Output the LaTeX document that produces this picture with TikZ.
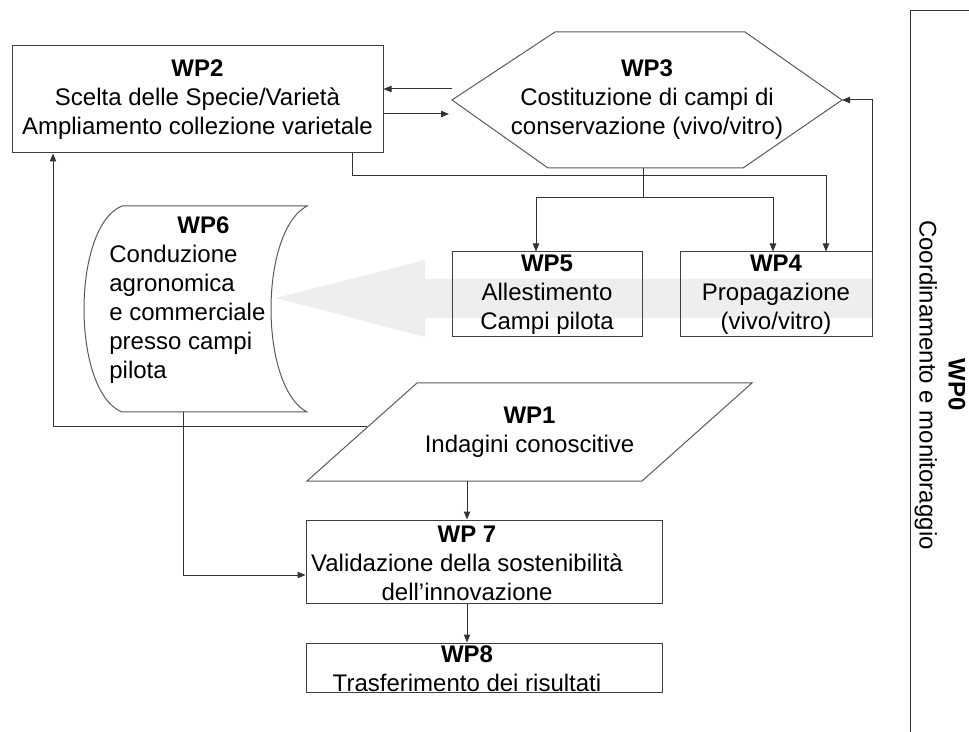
\documentclass[tikz,border=0pt]{standalone}
\usepackage{fontspec}
\setmainfont{Liberation Sans}
\usetikzlibrary{arrows.meta}

\begin{document}
\begin{tikzpicture}[x=0.5pt, y=-0.5pt,
  every node/.style={font=\fontsize{12}{14.5}\selectfont, inner sep=0pt},
  wpbox/.style={draw=black!75, line width=0.5pt, align=center},
  wpline/.style={draw=black!80, line width=0.5pt},
  arr/.style={wpline, -{Triangle[length=4pt, width=3.2pt]}}]
  \useasboundingbox (0,0) rectangle (969,732);

  % Big grey arrow (behind WP5/WP4)
  \fill[gray!13] (872,279) -- (425,279) -- (425,260) -- (276,298)
     -- (425,337) -- (425,318) -- (872,318) -- cycle;

  % WP0 frame on the right
  \draw[wpline] (910,732) -- (910,11) -- (969,11);
  \node[rotate=-90, align=center] (wp0) at (940,385)
     {\textbf{WP0}\\Coordinamento e monitoraggio};

  % Rectangles
  \node[wpbox, minimum width=185.5pt, minimum height=53.5pt] (wp2) at (197.5,99.5)
     {\textbf{WP2}\\Scelta delle Specie/Varietà\\Ampliamento collezione varietale};
  \node[wpbox, minimum width=95pt, minimum height=42.5pt] (wp5) at (547,294.5)
     {\textbf{WP5}\\Allestimento\\Campi pilota};
  \node[wpbox, minimum width=96pt, minimum height=42.5pt] (wp4) at (776,294.5)
     {\textbf{WP4}\\Propagazione\\(vivo/vitro)};
  \node[wpbox, minimum width=178pt, minimum height=41.5pt] (wp7) at (484,561.5) {};
  \node[align=center] (wp7t) at (467,563)
     {\textbf{WP 7}\\Validazione della sostenibilità\\dell’innovazione};
  \node[wpbox, minimum width=178pt, minimum height=24.5pt] (wp8) at (484,667.5) {};
  \node[align=center] (wp8t) at (467,669)
     {\textbf{WP8}\\Trasferimento dei risultati};

  % WP3 hexagon
  \draw[draw=black!65, line width=0.5pt] (452,100) -- (555,32) -- (745,32) -- (842,100)
     -- (743,168) -- (548,168) -- cycle;
  \node[align=center] (wp3) at (647,100)
     {\textbf{WP3}\\Costituzione di campi di\\conservazione (vivo/vitro)};
  \coordinate (p3e) at (842,100);
  \coordinate (p3s) at (643,168);

  % WP6 curved box
  \draw[draw=black!65, line width=0.5pt] (122,206) -- (307,206)
     .. controls (284,218) and (271,262) .. (271,309)
     .. controls (271,356) and (284,400) .. (307,412)
     -- (122,412)
     .. controls (97,402) and (84,356) .. (84,309)
     .. controls (84,262) and (97,216) .. (122,206);
  \node[align=left, anchor=west] (wp6) at (109,300)
     {\hspace*{34pt}\textbf{WP6}\\Conduzione\\agronomica\\e commerciale\\presso campi\\pilota};
  \coordinate (p6s) at (183,412);

  % WP1 parallelogram
  \draw[draw=black!65, line width=0.5pt] (307,481) -- (417,383) -- (752,383)
     -- (642,481) -- cycle;
  \node[align=center] (wp1) at (529.5,432) {\textbf{WP1}\\Indagini conoscitive};
  \coordinate (p1w) at (367,427);
  \coordinate (p1s) at (467,481);

  % WP2 <-> WP3
  \coordinate (a1) at (452,89);
  \coordinate (a2) at (449,114);
  \draw[arr] (a1) -- (a1 -| wp2.east);
  \draw[arr] (wp2.east |- a2) -- (a2);

  % WP3 -> WP5, WP4
  \coordinate (b0) at (643,198);
  \coordinate (b5) at (536,198);
  \coordinate (b4) at (773,198);
  \draw[wpline] (p3s) -- (b0);
  \draw[arr] (b0) -- (b5) -- (b5 |- wp5.north);
  \draw[arr] (b0) -- (b4) -- (b4 |- wp4.north);

  % WP2 -> WP4
  \coordinate (c24) at (352,176);
  \coordinate (d24) at (826,176);
  \draw[arr] (wp2.south -| c24) -- (c24) -- (d24) -- (d24 |- wp4.north);

  % WP4 -> WP3
  \draw[arr] (wp4.north east) -- (wp4.north east |- p3e) -- (p3e);

  % WP1 -> WP2
  \coordinate (e12) at (53,427);
  \draw[arr] (p1w) -- (e12) -- (e12 |- wp2.south);

  % WP6 -> WP7
  \coordinate (f67) at (183,575);
  \draw[arr] (p6s) -- (f67) -- (f67 -| wp7.west);

  % WP1 -> WP7 -> WP8
  \draw[arr] (p1s) -- (p1s |- wp7.north);
  \draw[arr] (wp7.south -| p1s) -- (wp8.north -| p1s);
\end{tikzpicture}
\end{document}
